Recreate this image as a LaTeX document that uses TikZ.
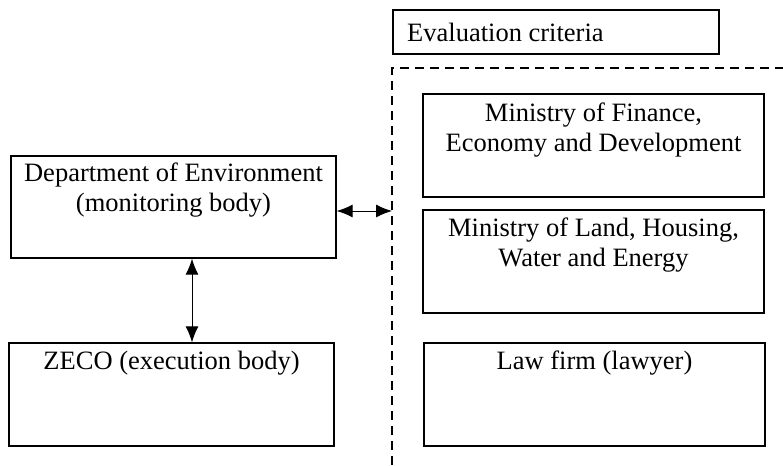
\documentclass[tikz,border=0pt]{standalone}
\usepackage{fontspec}
\setmainfont{Liberation Serif}
\usetikzlibrary{arrows.meta,calc}
\tikzset{
  boxnode/.style={draw=black, line width=1.3pt, inner sep=0pt, rectangle},
  txt/.style={inner sep=0pt, anchor=base, font=\fontsize{26.5}{30.5}\selectfont},
  dashline/.style={line width=1.1pt, dash pattern=on 9pt off 6pt},
  arr/.style={line width=1pt, {Latex[length=16pt,width=13pt]}-{Latex[length=16pt,width=13pt]}}
}
\newcommand{\mybox}[5]{% name, x1, y1, x2, y2
  \node[boxnode, minimum width={(#4-#2)*1pt}, minimum height={(#5-#3)*1pt}] (#1) at ({(#2+#4)/2},{(#3+#5)/2}) {};}
\begin{document}
\begin{tikzpicture}[x=1pt,y=-1pt]
\useasboundingbox (0,0) rectangle (783,465);
% boxes
\mybox{eval}{393}{10}{719}{54}
\mybox{fin}{423}{94}{764}{197}
\mybox{land}{423}{210}{764}{313}
\mybox{law}{424}{343}{765}{446}
\mybox{dept}{11}{156}{336}{258}
\mybox{zeco}{9}{343}{334}{446}
% texts
\node[txt, anchor=base west] (evalt) at (407,42) {Evaluation criteria};
\node[txt] (fint) at ($(fin.north)+(0,28)$) {\begin{tabular}[t]{@{}c@{}}Ministry of Finance,\\Economy and Development\end{tabular}};
\node[txt] (landt) at ($(land.north)+(0,27)$) {\begin{tabular}[t]{@{}c@{}}Ministry of Land, Housing,\\Water and Energy\end{tabular}};
\node[txt] (lawt) at ($(law.north)+(0,27)$) {Law firm (lawyer)};
\node[txt] (deptt) at ($(dept.north)+(0,26)$) {\begin{tabular}[t]{@{}c@{}}Department of Environment\\(monitoring body)\end{tabular}};
\node[txt] (zecot) at ($(zeco.north)+(0,27)$) {ZECO (execution body)};
% dashed group border
\coordinate (dc) at (392,68);
\coordinate (dr) at (783,68);
\coordinate (db) at (392,465);
\draw[dashline] (db) -- (dc) -- (dr);
% arrows
\coordinate (ha) at ($(dept.east)+(0,4)$);
\draw[arr] (ha) -- (ha -| dc);
\coordinate (va) at (192,0);
\draw[arr] (dept.south -| va) -- (zeco.north -| va);
\end{tikzpicture}
\end{document}
